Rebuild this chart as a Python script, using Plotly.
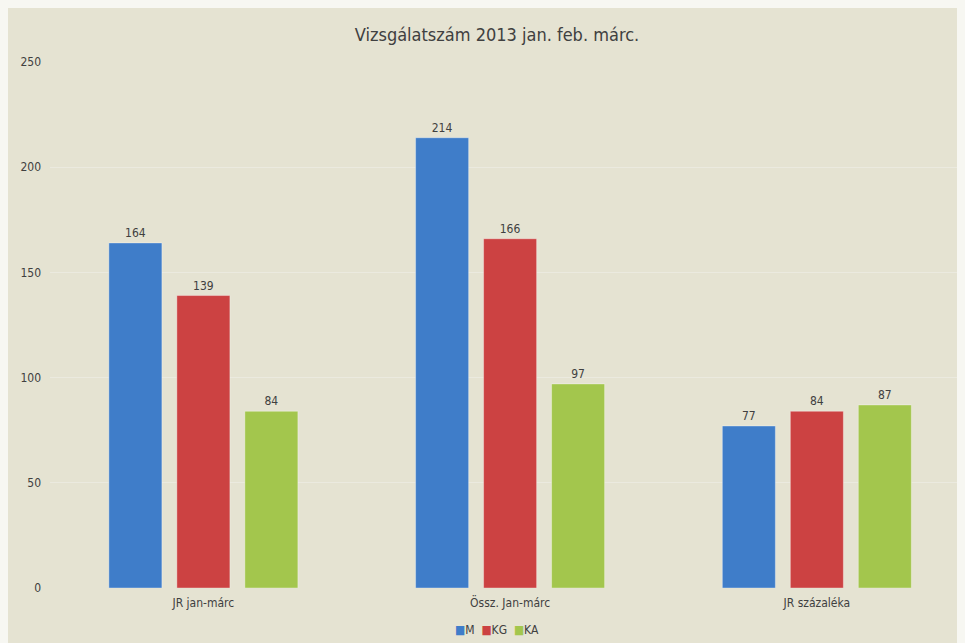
import plotly.graph_objects as go

CATEGORIES = ["JR jan-márc", "Össz. Jan-márc", "JR százaléka"]
SERIES = ["M", "KG", "KA"]
VALUES = {
    "M": [164, 214, 77],
    "KG": [139, 166, 84],
    "KA": [84, 97, 87],
}
COLORS = {"M": "#3F7DC9", "KG": "#CC4242", "KA": "#A3C64D"}
Y_TICKS = [0, 50, 100, 150, 200, 250]

FONT = "DejaVu Sans Condensed, DejaVu Sans, sans-serif"
BG = "#E5E3D2"
TXT = "#404040"


def main():
    x = list(range(len(CATEGORIES)))
    fig = go.Figure()
    for s in SERIES:
        fig.add_trace(go.Bar(
            x=x, y=VALUES[s], name=s,
            marker=dict(color=COLORS[s], line=dict(color="rgba(255,255,255,0.35)", width=1)),
            text=VALUES[s], textposition="outside",
            textfont=dict(size=12, color=TXT, family=FONT),
            cliponaxis=False, showlegend=False,
        ))

    # compact legend like the original (small squares right next to the names)
    legend_text = "&nbsp;&nbsp;".join(
        f"<span style='color:{COLORS[s]}'>■</span>{s}" for s in SERIES)
    fig.add_annotation(text=legend_text, xref="paper", yref="paper", x=0.4885, y=-0.08,
                       xanchor="center", yanchor="middle", showarrow=False,
                       font=dict(size=12, color=TXT, family=FONT))

    fig.update_layout(
        width=957, height=635,
        margin=dict(l=42, r=0, t=54, b=55),
        paper_bgcolor=BG, plot_bgcolor=BG,
        barmode="group", bargap=0.335, bargroupgap=0.22,
        font=dict(family=FONT, size=12, color=TXT),
        title=dict(text="Vizsgálatszám 2013 jan. feb. márc.", x=0.4885, xref="paper",
                   y=1 - 27 / 635, yanchor="middle",
                   font=dict(size=18, color=TXT, family=FONT)),
        xaxis=dict(range=[-0.5, 2.483], tickvals=x, ticktext=CATEGORIES,
                   showgrid=False, zeroline=False, showline=False, ticks="",
                   ticklabelstandoff=6, tickfont=dict(size=12, color=TXT)),
        yaxis=dict(range=[0, 250], tickvals=Y_TICKS, showgrid=True,
                   gridcolor="#EBEADF", gridwidth=1, zeroline=False, ticks="",
                   ticklabelstandoff=8, tickfont=dict(size=12, color=TXT)),
        showlegend=False,
    )
    fig.write_html("out.html", post_script="document.body.style.background='#F7F7F2';")


if __name__ == "__main__":
    main()
